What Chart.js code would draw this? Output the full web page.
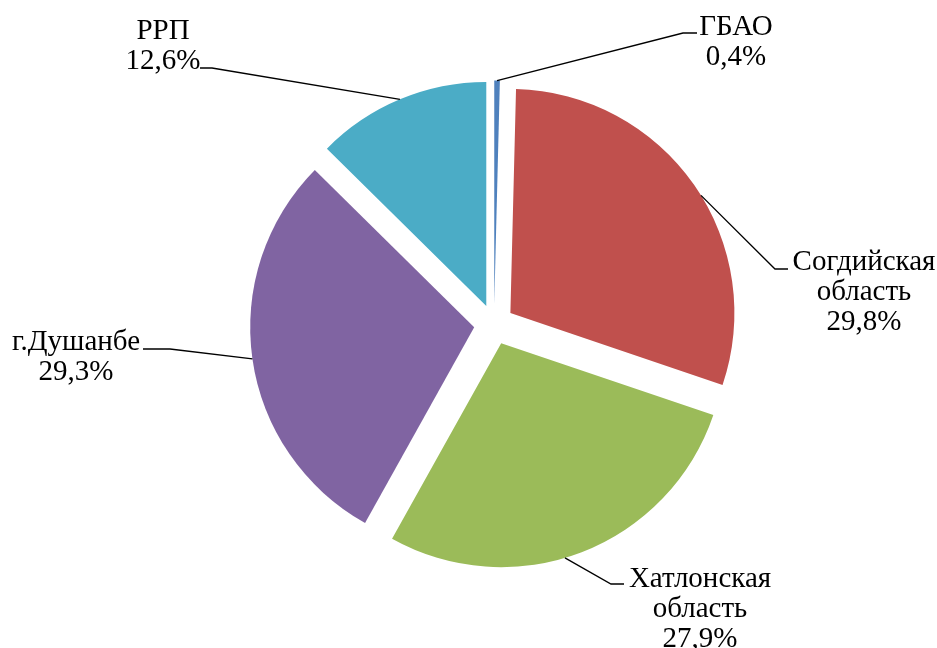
<!DOCTYPE html>
<html>
<head>
<meta charset="utf-8">
<script src="https://cdn.jsdelivr.net/npm/chart.js@4/dist/chart.umd.min.js"></script>
<style>
  html, body { margin: 0; padding: 0; background: #fff; }
  #wrap { width: 937px; height: 648px; position: relative; }
</style>
</head>
<body>
<div id="wrap"><canvas id="pieChart"></canvas></div>
<script>
// Data (share by region, %)
const regions = ['ГБАО', 'Согдийская область', 'Хатлонская область', 'г.Душанбе', 'РРП'];
const shares = [0.4, 29.8, 27.9, 29.3, 12.6];
const sliceColors = ['#4F81BD', '#C0504D', '#9BBB59', '#8064A2', '#4BACC6'];

// Label placement: text centre x, first baseline y, where along the arc the
// leader starts (0..1 of the slice angle), its elbow and its end at the text
const labelLayout = [
    { cx: 736, y: 35, at: 0.5, elbow: [683, 33], end: [697, 33] },
    { cx: 864, y: 270, at: 0.53, elbow: [775, 269], end: [788, 269] },
    { cx: 700, y: 587, at: 0.545, elbow: [611, 584], end: [624, 584] },
    { cx: 76, y: 350, at: 0.5, elbow: [170, 349], end: [143, 349] },
    { cx: 163, y: 39, at: 0.5, elbow: [212, 68], end: [200, 68] }
];

const labelFont = '29px "Liberation Serif", "Times New Roman", serif';
const lineHeight = 30;
// Explode distance in px. Chart.js' own offset also shrinks the arcs and eats
// the tiny ГБАО slice, so the arcs are shifted with a plain translate instead.
const explode = 20;

function formatShare(v) {
    return v.toFixed(1).replace('.', ',') + '%';
}

// Push each arc out along its middle angle
const explodeArcs = {
    id: 'explodeArcs',
    beforeDatasetDraw(chart) {
        chart.getDatasetMeta(0).data.forEach(arc => {
            if (arc._exploded) return;
            const baseDraw = arc.draw;
            arc.draw = function (c) {
                const mid = (this.startAngle + this.endAngle) / 2;
                c.save();
                c.translate(Math.cos(mid) * explode, Math.sin(mid) * explode);
                baseDraw.call(this, c);
                c.restore();
            };
            arc._exploded = true;
        });
    }
};

// Draws outside labels with leader lines anchored on each arc
const leaderLabels = {
    id: 'leaderLabels',
    afterDatasetsDraw(chart) {
        const ctx = chart.ctx;
        const arcs = chart.getDatasetMeta(0).data;
        ctx.save();
        ctx.font = labelFont;
        ctx.fillStyle = '#000';
        ctx.strokeStyle = '#000';
        ctx.lineWidth = 1.3;
        ctx.textAlign = 'center';
        ctx.textBaseline = 'alphabetic';
        arcs.forEach((arc, i) => {
            const lay = labelLayout[i];
            const mid = (arc.startAngle + arc.endAngle) / 2;
            const cx = arc.x + Math.cos(mid) * explode;
            const cy = arc.y + Math.sin(mid) * explode;
            const a = arc.startAngle + (arc.endAngle - arc.startAngle) * lay.at;
            const ax = cx + Math.cos(a) * arc.outerRadius;
            const ay = cy + Math.sin(a) * arc.outerRadius;

            ctx.beginPath();
            ctx.moveTo(ax, ay);
            ctx.lineTo(lay.elbow[0], lay.elbow[1]);
            ctx.lineTo(lay.end[0], lay.end[1]);
            ctx.stroke();

            const lines = regions[i].split(' ').concat(formatShare(shares[i]));
            lines.forEach((txt, k) => {
                ctx.fillText(txt, lay.cx, lay.y + k * lineHeight);
            });
        });
        ctx.restore();
    }
};

const ctx = document.getElementById('pieChart').getContext('2d');
const pieChart = new Chart(ctx, {
    type: 'pie',
    data: {
        labels: regions,
        datasets: [{
            data: shares,
            backgroundColor: sliceColors,
            borderWidth: 0,
            offset: 0
        }]
    },
    options: {
        responsive: true,
        maintainAspectRatio: false,
        animation: false,
        radius: 224,
        layout: {
            padding: { left: 60, right: 9, top: 1, bottom: 0 }
        },
        plugins: {
            legend: { display: false },
            tooltip: { enabled: false }
        }
    },
    plugins: [explodeArcs, leaderLabels]
});
</script>
</body>
</html>
